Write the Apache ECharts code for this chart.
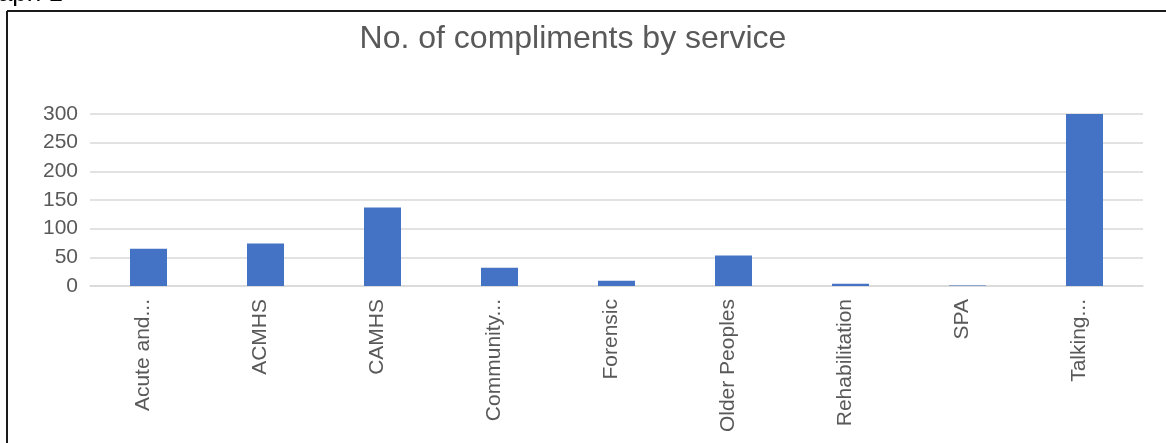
<!DOCTYPE html>
<html>
<head>
<meta charset="utf-8">
<script src="https://cdn.jsdelivr.net/npm/echarts@6/dist/echarts.min.js"></script>
<style>
  html, body { margin: 0; padding: 0; background: #fff; }
  #chart { width: 1166px; height: 443px; }
</style>
</head>
<body>
<div id="chart"></div>
<script>
const categories = ['Acute and...', 'ACMHS', 'CAMHS', 'Community...', 'Forensic', 'Older Peoples', 'Rehabilitation', 'SPA', 'Talking...']
const compliments = [65, 74, 137, 32, 9, 53, 4, 1, 300]
const yTicks = [0, 50, 100, 150, 200, 250, 300]

const font = '"Liberation Sans", Arial, sans-serif'
const myChart = echarts.init(document.getElementById('chart'))

const option = {
    animation: false,
    title: {
        text: 'No. of compliments by service',
        left: 568,
        top: 18,
        textAlign: 'center',
        textStyle: { fontFamily: font, fontSize: 32, fontWeight: 'normal', color: '#595959' }
    },
    graphic: [
        // frame of the chart box (left and top edges only are visible)
        { type: 'line', shape: { x1: 7, y1: 11, x2: 1166, y2: 11 }, style: { stroke: '#1a1a1a', lineWidth: 2 } },
        { type: 'line', shape: { x1: 7, y1: 11, x2: 7, y2: 443 }, style: { stroke: '#1a1a1a', lineWidth: 2 } },
        // page caption that is cut off at the top
        { type: 'text', x: -31, y: 7, style: { text: 'Graph 1', fontFamily: font, fontSize: 26, fill: '#000', verticalAlign: 'bottom' } }
    ],
    grid: { left: 90, right: 23, top: 114, bottom: 157, containLabel: false },
    xAxis: {
        type: 'category',
        data: categories,
        axisLine: { lineStyle: { color: '#d9d9d9', width: 1.5 } },
        axisTick: { show: false },
        axisLabel: {
            rotate: 90,
            interval: 0,
            margin: 13,
            verticalAlign: 'bottom',
            lineHeight: 11,
            fontFamily: font,
            fontSize: 21,
            color: '#595959'
        }
    },
    yAxis: {
        type: 'value',
        min: yTicks[0],
        max: yTicks[yTicks.length - 1],
        interval: yTicks[1] - yTicks[0],
        axisLine: { show: false },
        axisTick: { show: false },
        splitLine: { lineStyle: { color: '#d9d9d9', width: 1.5 } },
        axisLabel: { margin: 12, fontFamily: font, fontSize: 21, color: '#595959' }
    },
    series: [{
        type: 'bar',
        data: compliments,
        barWidth: 37,
        itemStyle: { color: '#4472c4' }
    }]
}
myChart.setOption(option)
</script>
</body>
</html>
